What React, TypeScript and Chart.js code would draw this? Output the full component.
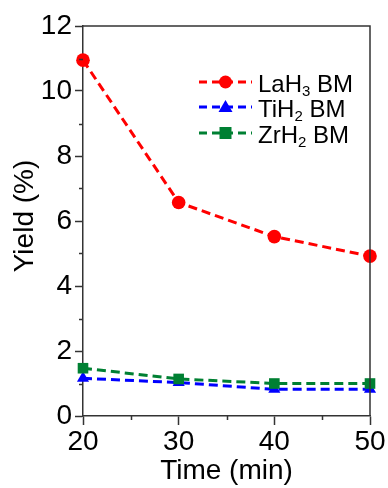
import React, { useEffect, useRef } from "react";
import { Chart, registerables } from "chart.js";

Chart.register(...registerables);

const times = [20, 30, 40, 50];
const laH3 = [10.95, 6.57, 5.52, 4.92];
const tiH2 = [1.16, 1.03, 0.82, 0.82];
const zrH2 = [1.47, 1.14, 1.0, 1.0];
const yTicks = [0, 2, 4, 6, 8, 10, 12];
const yMinor = [1, 3, 5, 7, 9, 11];
const xMinor = [25, 35, 45];
const yTitle = "Yield (%)";

const legendItems = [
  { base: "LaH", sub: "3", rest: " BM", color: "#ff0000", style: "circle" },
  { base: "TiH", sub: "2", rest: " BM", color: "#0000ff", style: "triangle" },
  { base: "ZrH", sub: "2", rest: " BM", color: "#008033", style: "rect" },
];

const FONT = "'Liberation Sans', Arial, sans-serif";
const AXIS = "#333333";

const framePlugin = {
  id: "frame",
  afterDraw(chart: any) {
    const { ctx, chartArea } = chart;
    const xs = chart.scales.x;
    const ys = chart.scales.y;
    ctx.save();
    ctx.strokeStyle = AXIS;
    ctx.lineWidth = 1.5;
    // top and right border
    ctx.beginPath();
    ctx.moveTo(chartArea.left, chartArea.top);
    ctx.lineTo(chartArea.right, chartArea.top);
    ctx.lineTo(chartArea.right, chartArea.bottom);
    ctx.stroke();
    // minor ticks
    ctx.beginPath();
    for (const v of yMinor) {
      const y = Math.round(ys.getPixelForValue(v)) + 0.5;
      ctx.moveTo(chartArea.left - 4, y);
      ctx.lineTo(chartArea.left, y);
    }
    for (const v of xMinor) {
      const x = Math.round(xs.getPixelForValue(v)) + 0.5;
      ctx.moveTo(x, chartArea.bottom);
      ctx.lineTo(x, chartArea.bottom + 4);
    }
    ctx.stroke();

    // y title
    ctx.save();
    ctx.translate(25, (chartArea.top + chartArea.bottom) / 2 - 5);
    ctx.rotate(-Math.PI / 2);
    ctx.fillStyle = "#000";
    ctx.font = `28px ${FONT}`;
    ctx.textAlign = "center";
    ctx.textBaseline = "middle";
    ctx.fillText(yTitle, 0, 0);
    ctx.restore();

    // legend
    const x0 = 199;
    const x1 = 252;
    const tx = 258;
    const rows = [82, 107, 133];
    legendItems.forEach((it, i) => {
      const y = rows[i];
      ctx.save();
      ctx.strokeStyle = it.color;
      ctx.lineWidth = 3;
      ctx.setLineDash([8, 5]);
      ctx.beginPath();
      ctx.moveTo(x0, y);
      ctx.lineTo(x1, y);
      ctx.stroke();
      ctx.restore();
      ctx.fillStyle = it.color;
      const cx = (x0 + x1) / 2;
      ctx.beginPath();
      if (it.style === "circle") {
        ctx.arc(cx, y, 6.5, 0, Math.PI * 2);
      } else if (it.style === "triangle") {
        ctx.moveTo(cx, y - 7);
        ctx.lineTo(cx + 7, y + 5);
        ctx.lineTo(cx - 7, y + 5);
        ctx.closePath();
      } else {
        ctx.rect(cx - 6, y - 6, 12, 12);
      }
      ctx.fill();
      ctx.fillStyle = "#000";
      ctx.textBaseline = "alphabetic";
      ctx.textAlign = "left";
      ctx.font = `24px ${FONT}`;
      const base = y + 9.5;
      let px = tx;
      ctx.fillText(it.base, px, base);
      px += ctx.measureText(it.base).width;
      ctx.font = `15px ${FONT}`;
      ctx.fillText(it.sub, px, base + 4);
      px += ctx.measureText(it.sub).width;
      ctx.font = `24px ${FONT}`;
      ctx.fillText(it.rest, px, base);
    });
    ctx.restore();
  },
};

export default function App() {
  const ref = useRef<HTMLCanvasElement>(null);
  useEffect(() => {
    document.body.style.margin = "0";
    const canvas = ref.current!;
    const mk = (xs: number[], ys: number[]) => xs.map((x, i) => ({ x, y: ys[i] }));
    const common = {
      borderWidth: 3,
      borderDash: [9, 5],
      showLine: true,
      clip: false as any,
      tension: 0,
    };
    const chart = new Chart(canvas, {
      type: "line",
      data: {
        datasets: [
          {
            label: "LaH3 BM",
            data: mk(times, laH3),
            borderColor: "#ff0000",
            backgroundColor: "#ff0000",
            pointStyle: "circle",
            pointRadius: 6.8,
            pointBorderWidth: 0,
            order: 2,
            ...common,
          },
          {
            label: "TiH2 BM",
            data: mk(times, tiH2),
            borderColor: "#0000ff",
            backgroundColor: "#0000ff",
            pointStyle: "triangle",
            pointRadius: 7,
            pointBorderWidth: 0,
            order: 1,
            ...common,
          },
          {
            label: "ZrH2 BM",
            data: mk(times, zrH2),
            borderColor: "#008033",
            backgroundColor: "#008033",
            pointStyle: "rect",
            pointRadius: 7.5,
            pointBorderWidth: 0,
            order: 0,
            ...common,
          },
        ],
      },
      options: {
        animation: false,
        responsive: false,
        maintainAspectRatio: false,
        layout: { padding: { left: 0, right: 18, top: 26, bottom: 0 } },
        plugins: { legend: { display: false }, tooltip: { enabled: false } },
        scales: {
          x: {
            type: "linear",
            min: 20,
            max: 50,
            afterBuildTicks: (s: any) => {
              s.ticks = times.map((v) => ({ value: v }));
            },
            afterFit: (s: any) => {
              s.height = 72;
            },
            ticks: {
              font: { family: FONT, size: 28 },
              color: "#000",
              padding: 0,
              maxRotation: 0,
            },
            grid: {
              display: true,
              drawOnChartArea: false,
              drawTicks: true,
              tickLength: 9,
              tickColor: AXIS,
              tickWidth: 1.5,
            },
            border: { display: true, color: AXIS, width: 1.5 },
            title: {
              display: true,
              text: "Time (min)",
              font: { family: FONT, size: 28 },
              color: "#000",
              padding: { top: 0, bottom: 0 },
            },
          },
          y: {
            type: "linear",
            min: 0,
            max: 12,
            afterBuildTicks: (s: any) => {
              s.ticks = yTicks.map((v) => ({ value: v }));
            },
            afterFit: (s: any) => {
              s.width = 83;
            },
            ticks: {
              font: { family: FONT, size: 28 },
              color: "#000",
              padding: 3,
            },
            grid: {
              display: true,
              drawOnChartArea: false,
              drawTicks: true,
              tickLength: 8,
              tickColor: AXIS,
              tickWidth: 1.5,
            },
            border: { display: true, color: AXIS, width: 1.5 },
            title: { display: false },
          },
        },
      },
      plugins: [framePlugin],
    } as any);
    return () => chart.destroy();
  }, []);
  return <canvas ref={ref} width={388} height={488} style={{ display: "block" }} />;
}
